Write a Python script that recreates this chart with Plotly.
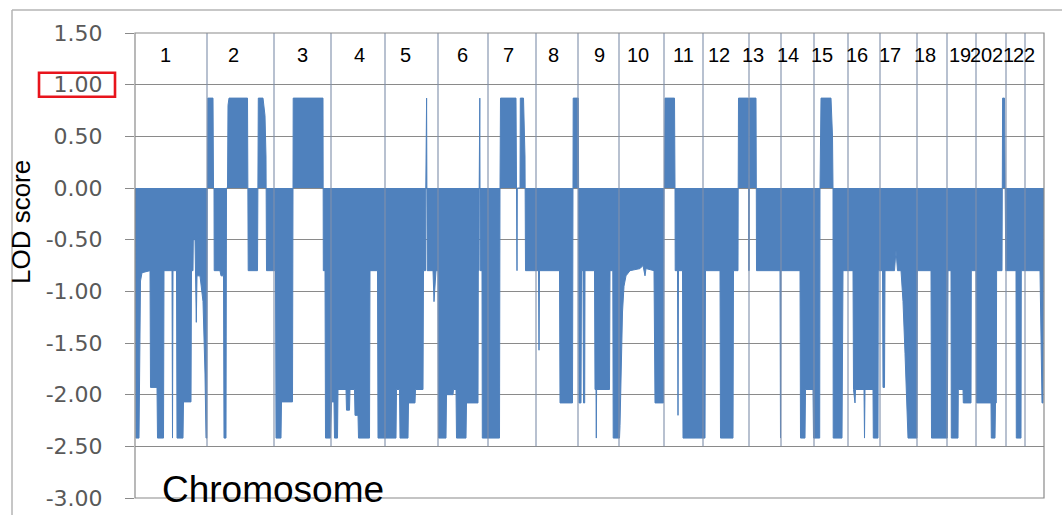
import plotly.graph_objects as go

# Chromosome layout on the cumulative marker axis
chrom_labels = [str(i) for i in range(1, 23)]
chrom_sizes = [72, 67, 57, 54, 53, 50, 48, 42, 41, 45, 39, 46, 32, 33, 34, 32, 37, 30, 29, 30, 19, 18]
label_pos = [30, 98, 167, 224, 270, 327, 373, 418, 464, 503, 548, 584, 618, 653, 687, 722, 755, 790, 825, 846, 868, 889]

# LOD profile per chromosome (cumulative position, LOD score)
marker_pos = [
    [0.5, 1, 4, 5.5, 7, 15, 15.5, 22, 22.5, 28.5, 29, 37, 37.5, 38, 41.5, 42, 48, 48.5, 56, 56.5, 58, 58.3, 60, 60.5, 61.3, 62, 65, 68, 70, 71, 71.8, 72.2],
    [72.5, 72.8, 78, 78.5, 79, 79.2, 85, 86, 88.5, 89, 91, 91.5, 92.5, 93, 94, 112.5, 113, 113.2, 122.5, 123, 123.3, 128, 130, 131, 131.3, 131.5, 139],
    [139.5, 140.5, 141, 146, 146.5, 157.5, 158, 158.2, 188, 188.2, 188.3, 190, 190.5, 195.5],
    [196.5, 199, 199.5, 202.5, 203, 211, 211.5, 214.5, 215, 219.5, 220, 223, 223.5, 234.5, 235, 242.5, 243, 250],
    [250.5, 261, 261.5, 264.5, 265, 273, 273.5, 280, 280.5, 288, 288.5, 290.5, 290.8, 291.1, 291.6, 291.9, 292.2, 298, 299, 301, 303],
    [303.5, 311, 311.5, 318, 318.5, 321, 321.5, 331, 331.5, 343, 343.3, 344, 344.2, 344.4, 344.8, 345, 345.2, 347, 347.3, 353],
    [353.2, 364.5, 365, 365.5, 381, 381.3, 381.5, 382, 382.3, 385, 385.3, 388.5, 390, 390.3, 390.5, 401],
    [401.2, 403.5, 404, 404.5, 424.5, 425, 437.5, 438, 438.2, 443],
    [443.3, 443.6, 444, 446, 446.5, 448, 448.5, 449.7, 450, 459.5, 460, 461, 461.3, 461.6, 474.5, 475, 477.8, 478.2, 484],
    [484.5, 485, 486, 487.5, 489, 491, 495, 505, 508, 510, 511, 519, 520, 528.5, 529],
    [529.5, 530, 539.5, 540, 540.2, 542.5, 543, 543.5, 547.5, 548, 568],
    [568.5, 570, 570.5, 585, 585.5, 598, 598.5, 603, 603.2, 603.5, 613.3],
    [613.5, 613.7, 614.2, 614.4, 621, 621.3, 621.5, 645, 645.5, 646],
    [646.5, 665, 665.5, 670, 670.5, 678, 678.5, 679],
    [679.5, 684.7, 685, 686, 696, 697.5, 698, 698.2, 707, 708, 713],
    [713.2, 718, 718.5, 720, 720.5, 729, 729.5, 730, 738, 738.3, 743, 743.3, 745],
    [745.2, 747.5, 748, 749.5, 750, 759.5, 761, 762.5, 766, 768, 770, 772, 773, 782],
    [782.3, 796, 796.5, 812],
    [812.3, 813, 816, 816.3, 823, 823.3, 828, 828.3, 836, 836.3, 841],
    [841.5, 856, 856.3, 860, 860.5, 861.3, 861.6, 867, 867.3, 867.6, 869.5, 869.8, 870.5, 870.8, 871],
    [871.2, 881, 881.3, 886, 886.3, 890],
    [890.2, 905, 907, 908, 908.5],
]
marker_lod = [
    [0, -2.42, -2.42, -0.9, -0.82, -0.8, -1.93, -1.93, -2.42, -2.42, -0.8, -0.8, -2.42, -0.8, -0.8, -2.42, -2.42, -2.07, -2.07, -0.8, -0.8, -0.5, -0.5, -0.85, -1.3, -0.85, -0.85, -1.1, -1.8, -2.42, -2.42, 0],
    [0, 0.87, 0.87, 0, 0, -0.8, -0.8, -0.85, -0.85, -2.42, -2.42, 0, 0, 0.8, 0.87, 0.87, 0, -0.8, -0.8, 0, 0.87, 0.87, 0.7, 0.3, 0, -0.8, -0.8],
    [-0.8, -0.8, -2.42, -2.42, -2.07, -2.07, 0, 0.87, 0.87, 0, -0.8, -0.8, -2.42, -2.42],
    [-2.07, -2.07, -2.42, -2.42, -1.95, -1.95, -2.15, -2.15, -1.95, -1.95, -2.2, -2.2, -2.42, -2.42, -0.8, -0.8, -2.42, -2.42],
    [-2.42, -2.42, -1.95, -1.95, -2.42, -2.42, -2.08, -2.08, -1.95, -1.95, -0.8, -0.8, 0, 0.87, 0.87, 0, -0.8, -0.8, -1.1, -0.8, -0.8],
    [-2.42, -2.42, -2.0, -2.0, -1.95, -1.95, -2.42, -2.42, -2.08, -2.08, -0.8, -0.8, 0, 0.87, 0.87, 0, -0.8, -0.8, -2.42, -2.42],
    [-2.42, -2.42, 0, 0.87, 0.87, 0, -0.8, -0.8, 0, 0, 0.87, 0.87, 0.3, 0, -0.8, -0.8],
    [-0.8, -0.8, -1.57, -0.8, -0.8, -2.08, -2.08, 0, 0.87, 0.87],
    [0.87, 0, -2.08, -2.08, -0.8, -0.8, -2.08, -2.08, -0.8, -0.8, -1.95, -1.95, -2.42, -1.95, -1.95, -0.8, -0.8, -2.42, -2.42],
    [-2.42, -2.3, -1.7, -1.2, -0.95, -0.85, -0.8, -0.78, -0.75, -0.85, -0.78, -0.8, -2.08, -2.08, 0],
    [0, 0.87, 0.87, 0, -0.8, -0.8, -2.2, -0.8, -0.8, -2.42, -2.42],
    [-2.42, -2.42, -0.8, -0.8, -2.42, -2.42, -0.8, -0.8, 0, 0.87, 0.87],
    [0.87, -0.8, -0.8, 0.87, 0.87, 0, -0.8, -0.8, -2.42, -0.8],
    [-0.8, -0.8, -2.42, -2.42, -1.95, -1.95, -2.42, -2.42],
    [-2.42, -2.42, 0, 0.87, 0.87, 0.5, 0, -2.42, -2.42, -0.8, -0.8],
    [-0.8, -0.8, -1.95, -2.08, -1.95, -1.95, -2.42, -1.95, -1.95, -2.42, -2.42, -0.8, -0.8],
    [-0.8, -0.8, -1.93, -1.93, -0.8, -0.8, -0.6, -0.8, -0.8, -1.1, -1.6, -2.2, -2.42, -2.42],
    [-0.8, -0.8, -2.42, -2.42],
    [-2.42, -0.8, -0.8, -2.42, -2.42, -1.95, -1.95, -2.08, -2.08, -0.8, -0.8],
    [-2.08, -2.08, -2.42, -2.42, -2.08, -2.08, -0.8, -0.8, 0, 0.87, 0.87, 0, 0, -0.8, -0.8],
    [-0.8, -0.8, -2.42, -2.42, -0.8, -0.8],
    [-0.8, -0.8, -2.08, -2.08, 0],
]

y_ticks = [1.5, 1.0, 0.5, 0.0, -0.5, -1.0, -1.5, -2.0, -2.5, -3.0]
y_tick_text = ["1.50", "1.00", "0.50", "0.00", "-0.50", "-1.00", "-1.50", "-2.00", "-2.50", "-3.00"]

BLUE = "#4F81BD"
GRID = "#8a8a8a"
CHROM_LINE = "rgba(128,145,172,0.75)"

xs, ys = [], []
for p, v in zip(marker_pos, marker_lod):
    xs.extend(p)
    ys.extend(v)

fig = go.Figure()
fig.add_trace(go.Scatter(
    x=xs, y=ys, mode="lines",
    line=dict(color=BLUE, width=1),
    fill="tozeroy", fillcolor=BLUE,
    hoverinfo="skip", showlegend=False,
))

# chromosome boundary lines
bounds = []
acc = 0
for s in chrom_sizes[:-1]:
    acc += s
    bounds.append(acc)

shapes = []
for b in bounds:
    shapes.append(dict(type="line", xref="x", yref="y", x0=b, x1=b, y0=-2.5, y1=1.5,
                       line=dict(color=CHROM_LINE, width=1.5), layer="above"))
# plot frame
shapes.append(dict(type="rect", xref="paper", yref="paper", x0=0, x1=1, y0=0, y1=1,
                   line=dict(color=GRID, width=1.2), layer="above"))
# outer chart border
shapes.append(dict(type="line", xref="paper", yref="paper", x0=-0.1353, x1=1.03, y0=1.0495, y1=1.0495,
                   line=dict(color="#b4b4b4", width=1.5)))
shapes.append(dict(type="line", xref="paper", yref="paper", x0=-0.1353, x1=-0.1353, y0=-0.05, y1=1.0495,
                   line=dict(color="#b4b4b4", width=1.5)))
# highlight box round the 1.00 tick label
shapes.append(dict(type="rect", xref="paper", yref="paper", x0=-0.1056, x1=-0.022, y0=0.863, y1=0.9146,
                   line=dict(color="#e8141c", width=2.6)))

annotations = []
for lab, xp in zip(chrom_labels, label_pos):
    annotations.append(dict(x=xp, y=1.287, xref="x", yref="y", text=lab, showarrow=False,
                            xanchor="center", yanchor="middle",
                            font=dict(family="Liberation Sans, Arial", size=20, color="black")))
annotations.append(dict(x=25, y=0.019, xref="x", yref="paper", text="Chromosome", showarrow=False,
                        xanchor="left", yanchor="middle",
                        font=dict(family="Liberation Sans, Arial", size=37, color="black")))
annotations.append(dict(x=-0.1254, y=0.5935, xref="paper", yref="paper", text="LOD score", showarrow=False,
                        textangle=-90, xanchor="center", yanchor="middle",
                        font=dict(family="Liberation Sans, Arial", size=26, color="black")))

fig.update_layout(
    width=1062, height=515, autosize=False,
    margin=dict(l=135, r=18, t=33, b=17),
    paper_bgcolor="white", plot_bgcolor="white",
    shapes=shapes, annotations=annotations,
    xaxis=dict(range=[0, 909], showticklabels=False, showgrid=False, zeroline=False,
               showline=False, ticks="", automargin=False),
    yaxis=dict(range=[-3, 1.5], tickvals=y_ticks, ticktext=y_tick_text,
               ticks="outside", ticklen=9, tickcolor=GRID, tickwidth=1,
               showgrid=True, gridcolor=GRID, gridwidth=1, zeroline=False,
               showline=False, ticklabelstandoff=18, automargin=False,
               tickfont=dict(family="DejaVu Sans", size=22, color="#595959")),
)

fig.write_html("out.html")
